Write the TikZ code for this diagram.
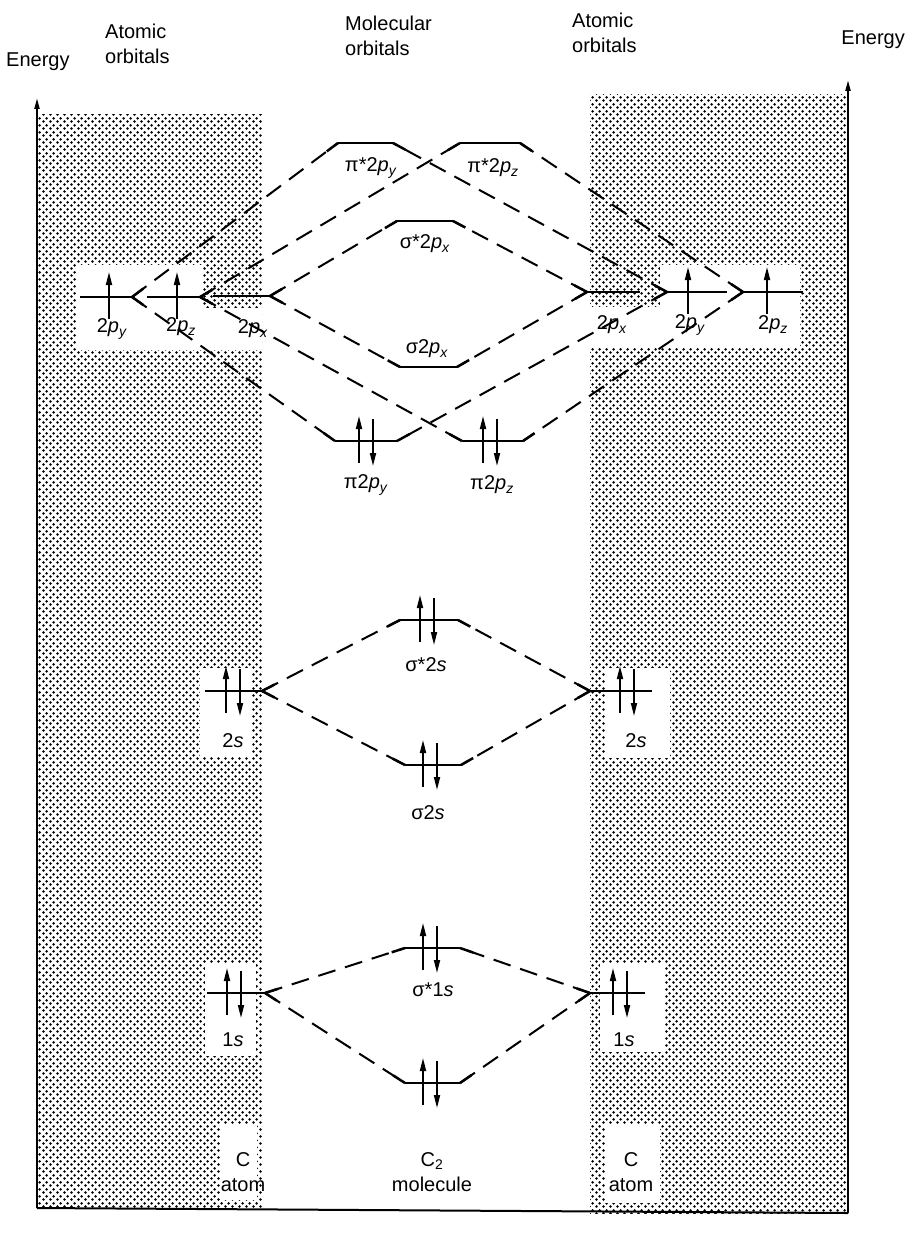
\documentclass[tikz,border=0pt]{standalone}
\usepackage{fontspec}
\setmainfont{Liberation Sans}
\usetikzlibrary{arrows.meta,calc,patterns.meta}

\pgfdeclarepattern{
  name=hexdots,
  type=uncolored,
  bottom left={\pgfpoint{0pt}{0pt}},
  top right={\pgfpoint{7pt}{7pt}},
  tile size={\pgfpoint{7pt}{7pt}},
  code={
    \pgfpathcircle{\pgfpoint{1.75pt}{1.75pt}}{1.6pt}
    \pgfpathcircle{\pgfpoint{5.25pt}{5.25pt}}{1.6pt}
    \pgfusepath{fill}
  }
}

\newcommand\lblfont{\fontsize{20}{25}\selectfont}
\newcommand\porb[2]{#12\textit{p}\textsubscript{\textit{#2}}}

\tikzset{
  shade/.style={pattern=hexdots, pattern color=black},
  hole/.style={fill=white},
  axis/.style={line width=2pt, -{Triangle[length=11pt,width=5pt]}},
  level/.style={line width=2.5pt},
  conn/.style={line width=2pt, dash pattern=on 18pt off 10pt},
  elec/.style={line width=1.7pt, -{Triangle[length=13pt,width=6pt]}},
  lbl/.style={font=\lblfont, inner sep=1pt},
  hdr/.style={font=\lblfont, inner sep=0pt, align=left}
}

\newcommand\elup[2]{\draw[elec] (#1,#2+22) -- (#1,#2-25);}
\newcommand\eldn[2]{\draw[elec] (#1,#2-22) -- (#1,#2+25);}
\newcommand\elpair[2]{\elup{#1-7}{#2}\eldn{#1+7}{#2}}
\newcommand\mylink[2]{%
  \draw[conn] (#1) -- (#2);
  \draw[level] (#1) -- ($(#1)!14pt!(#2)$);
  \draw[level] (#2) -- ($(#2)!14pt!(#1)$);}

\begin{document}
\begin{tikzpicture}[x=1pt,y=-1pt]
\useasboundingbox (0,0) rectangle (907,1236);

% ---------- shaded atomic regions ----------
\fill[shade] (37,115) rectangle (262,1208);
\fill[shade] (590,95) rectangle (848,1213);
% white holes (left)
\fill[hole] (77,265) -- (203,265) -- (203,308) -- (262,308) -- (262,350) -- (77,350) -- cycle;
\fill[hole] (200,668) rectangle (252,757);
\fill[hole] (205,963) rectangle (256,1056);
\fill[hole] (220,1125) rectangle (257,1200);
% white holes (right)
\fill[hole] (590,307) -- (660,307) -- (660,265) -- (800,265) -- (800,347) -- (590,347) -- cycle;
\fill[hole] (605,668) rectangle (670,758);
\fill[hole] (600,963) rectangle (665,1052);
\fill[hole] (605,1125) rectangle (660,1203);

% ---------- axes ----------
\coordinate (axLb) at (37,1208);
\coordinate (axLt) at (37,98);
\coordinate (axRb) at (848,1213);
\coordinate (axRt) at (848,80);
\draw[axis] (axLb) -- (axLt);
\draw[axis] (axRb) -- (axRt);
\draw[line width=2pt] (axLb) -- (axRb);

% ---------- level end points ----------
% left atomic 2p
\coordinate (Lpy1) at (80,297);  \coordinate (Lpy2) at (132,297);
\coordinate (Lpz1) at (147,297); \coordinate (Lpz2) at (200,297);
\coordinate (Lpx1) at (213,296); \coordinate (Lpx2) at (270,296);
% right atomic 2p
\coordinate (Rpx1) at (587,292); \coordinate (Rpx2) at (640,292);
\coordinate (Rpy1) at (667,292); \coordinate (Rpy2) at (727,292);
\coordinate (Rpz1) at (743,292); \coordinate (Rpz2) at (803,292);
% molecular 2p
\coordinate (psy1) at (338,143); \coordinate (psy2) at (393,143);
\coordinate (psz1) at (460,143); \coordinate (psz2) at (520,143);
\coordinate (ssx1) at (397,221); \coordinate (ssx2) at (453,221);
\coordinate (sx1)  at (400,367); \coordinate (sx2)  at (457,367);
\coordinate (py1)  at (335,441); \coordinate (py2)  at (397,441);
\coordinate (pz1)  at (462,441); \coordinate (pz2)  at (523,441);
% 2s
\coordinate (Ls1) at (205,691); \coordinate (Ls2) at (262,691);
\coordinate (Rs1) at (590,691); \coordinate (Rs2) at (652,691);
\coordinate (sst1) at (400,620); \coordinate (sst2) at (458,620);
\coordinate (sb1)  at (405,765); \coordinate (sb2)  at (461,765);
% 1s
\coordinate (La1) at (207,993); \coordinate (La2) at (265,993);
\coordinate (Ra1) at (590,993); \coordinate (Ra2) at (645,993);
\coordinate (sta1) at (405,948); \coordinate (sta2) at (460,948);
\coordinate (sba1) at (405,1083); \coordinate (sba2) at (460,1083);

% ---------- connectors ----------
\mylink{Lpy2}{psy1} \mylink{Lpy2}{py1}
\mylink{Lpz2}{psz1} \mylink{Lpz2}{pz1}
\mylink{Lpx2}{ssx1} \mylink{Lpx2}{sx1}
\mylink{Rpx1}{ssx2} \mylink{Rpx1}{sx2}
\mylink{Rpy1}{psy2} \mylink{Rpy1}{py2}
\mylink{Rpz1}{psz2} \mylink{Rpz1}{pz2}
\mylink{Ls2}{sst1} \mylink{Ls2}{sb1}
\mylink{Rs1}{sst2} \mylink{Rs1}{sb2}
\mylink{La2}{sta1} \mylink{La2}{sba1}
\mylink{Ra1}{sta2} \mylink{Ra1}{sba2}

% ---------- levels ----------
\foreach \a/\b in {Lpy1/Lpy2,Lpz1/Lpz2,Lpx1/Lpx2,Rpx1/Rpx2,Rpy1/Rpy2,Rpz1/Rpz2,
  psy1/psy2,psz1/psz2,ssx1/ssx2,sx1/sx2,py1/py2,pz1/pz2,
  Ls1/Ls2,Rs1/Rs2,sst1/sst2,sb1/sb2,La1/La2,Ra1/Ra2,sta1/sta2,sba1/sba2}
  \draw[level] (\a) -- (\b);

% ---------- electrons ----------
\elup{109}{297} \elup{177}{297}
\elup{688}{292} \elup{767}{292}
\elpair{366}{441} \elpair{490}{441}
\elpair{233}{691} \elpair{627}{691}
\elpair{427}{620} \elpair{430}{765}
\elpair{234}{993} \elpair{620}{993}
\elpair{430}{948} \elpair{430}{1083}

% ---------- orbital labels ----------
\node[lbl] (tLpy) at (112,329) {\porb{}{y}};
\node[lbl] (tLpz) at (181,327) {\porb{}{z}};
\node[lbl] (tLpx) at (253,329) {\porb{}{x}};
\node[lbl] (tRpx) at (612,325) {\porb{}{x}};
\node[lbl] (tRpy) at (690,325) {\porb{}{y}};
\node[lbl] (tRpz) at (773,325) {\porb{}{z}};
\node[lbl] (tpsy) at (371,168) {\porb{π*}{y}};
\node[lbl] (tpsz) at (493,168) {\porb{π*}{z}};
\node[lbl] (tssx) at (425,244) {\porb{σ*}{x}};
\node[lbl] (tsx)  at (427,349) {\porb{σ}{x}};
\node[lbl] (tpy)  at (366,485) {\porb{π}{y}};
\node[lbl] (tpz)  at (492,485) {\porb{π}{z}};
\node[lbl] (tLs)  at (233,741) {2\textit{s}};
\node[lbl] (tRs)  at (636,741) {2\textit{s}};
\node[lbl] (tsst) at (426,665) {σ*2\textit{s}};
\node[lbl] (tsb)  at (428,813) {σ2\textit{s}};
\node[lbl] (tLa)  at (233,1040) {1\textit{s}};
\node[lbl] (tRa)  at (624,1040) {1\textit{s}};
\node[lbl] (tsta) at (433,990) {σ*1\textit{s}};

% ---------- headers and footers ----------
\node[hdr, anchor=west] (hEL) at (6,62) {Energy};
\node[hdr, anchor=west] (hAL) at (105,44) {Atomic\\orbitals};
\node[hdr, anchor=west] (hMO) at (345,36) {Molecular\\orbitals};
\node[hdr, anchor=west] (hAR) at (572,33) {Atomic\\orbitals};
\node[hdr, anchor=east] (hER) at (905,40) {Energy};
\node[lbl, align=center] (fCL) at (243,1172) {C\\atom};
\node[lbl, align=center] (fC2) at (432,1172) {C\textsubscript{2}\\molecule};
\node[lbl, align=center] (fCR) at (631,1172) {C\\atom};
\end{tikzpicture}
\end{document}
